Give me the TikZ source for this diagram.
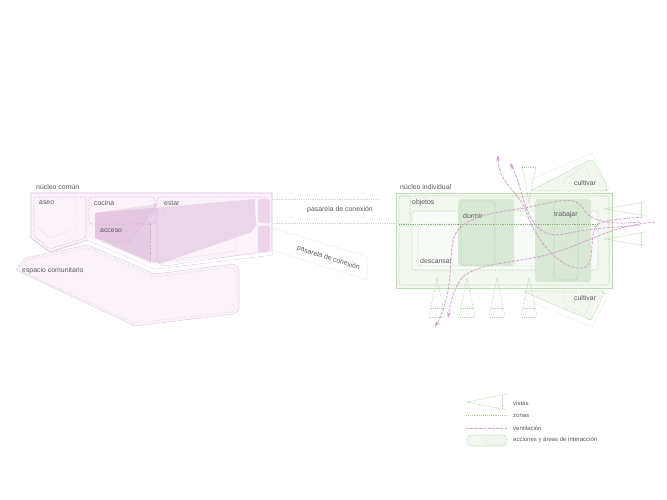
\documentclass[tikz,border=0pt]{standalone}
\usepackage{fontspec}
\setmainfont{Liberation Sans}
\usetikzlibrary{arrows.meta}
\definecolor{pk}{HTML}{E0BBDA}
\definecolor{pkl}{HTML}{D9A4D0}
\definecolor{pkd}{HTML}{D3A8CC}
\definecolor{pkf}{HTML}{FAF3F9}
\definecolor{pkm}{HTML}{EDD5E9}
\definecolor{gr}{HTML}{BEDCB4}
\definecolor{grl}{HTML}{A5D496}
\definecolor{grd}{HTML}{CFE3C9}
\definecolor{grf}{HTML}{F2F7F0}
\definecolor{grm}{HTML}{D9E8D4}
\definecolor{vent}{HTML}{D6A0CF}
\definecolor{txt}{HTML}{5A5A5A}
\tikzset{
 lab/.style={text=txt,font=\fontsize{6.9}{8}\selectfont,inner sep=0pt,anchor=west},
 legl/.style={text=txt,font=\fontsize{6}{7}\selectfont,inner sep=0pt,anchor=west},
 dp/.style={draw=pkl,line width=.55pt,dash pattern=on .7pt off 1pt},
 dg/.style={draw=grl,line width=.55pt,dash pattern=on .7pt off 1pt},
 dq/.style={draw=black!18,line width=.4pt,dash pattern=on .7pt off 1.1pt},
 dqg/.style={draw=black!15!grl,line width=.4pt,dash pattern=on .7pt off 1.1pt},
 vista/.style={draw=grl,line width=.6pt,dash pattern=on .8pt off 1.1pt},
 ventl/.style={draw=vent,line width=.8pt,dash pattern=on 3pt off 1.3pt,-{Stealth[length=6pt,width=4pt,fill=vent]}},
 ventn/.style={draw=vent,line width=.8pt,dash pattern=on 3pt off 1.3pt},
}
\begin{document}
\begin{tikzpicture}[x=1pt,y=-1pt]
\useasboundingbox[fill=white] (0,0) rectangle (667,500);
% ---- left: common nucleus
\filldraw[fill=pkf,draw=pk,line width=.6pt] (31,193)--(272,193)--(272,255)--(155,269)--(88,240)--(50,252)--(31,238)--cycle;
\path[fill=white] (88,240)--(155,269)--(272,255)--(272,252)--(155,265)--(88,237)--cycle;
% community space
\filldraw[fill=pkf,dp,rounded corners=2pt] (16,270)--(25,258)--(88,245)--(155,274)--(234,264)--(239,268)--(239,310)--(234,314)--(135,326)--cycle;
\draw[dq,rounded corners=2pt] (18,270)--(27,260)--(88,248)--(155,277)--(231,267)--(236,270)--(236,308)--(232,312)--(135,323)--cycle;
% aseo
\draw[dp,rounded corners=2pt] (34,197)--(86,197)--(86,238)--(50,249)--(34,236)--cycle;
\draw[dq,rounded corners=2pt] (38,199)--(77,199)--(77,228)--(50,238)--(38,228)--cycle;
% estar big dark
\fill[pkm,rounded corners=1pt] (95,213)--(255,199)--(256,225)--(252,232)--(162,263)--(150,262)--(95,238)--cycle;
% acceso darker
\fill[pkd,opacity=.22] (95,213)--(157,204)--(150,222)--(150,262)--(95,238)--cycle;
\fill[pkd,opacity=.1] (95,213)--(157,204)--(127,247)--(95,238)--cycle;
\draw[pk,line width=.4pt] (157,203)--(127,247);
\draw[dq,rounded corners=2pt] (100,216)--(147,225)--(147,252)--(142,254)--(100,237)--cycle;
% cocina
\draw[dp,rounded corners=3pt] (89,197)--(155,197)--(155,224)--(89,224)--cycle;
\draw[dp,rounded corners=3pt] (157,197)--(268,197)--(268,251)--(165,266)--(157,262)--cycle;
\draw[dq,rounded corners=2pt] (163,200)--(236,200)--(236,251)--(165,261)--cycle;
\draw[dp] (150,222)--(150,262);
% small boxes
\fill[pkm,rounded corners=1.5pt] (258,199) rectangle (270,223);
\fill[pkm,rounded corners=1.5pt] (258,226) rectangle (270,252);
% bridges
\draw[dq] (272,199)--(380,199);
\draw[dq] (272,223)--(396,223);
\draw[dq,rounded corners=2pt] (272,228)--(366,256)--(368,260)--(367,280)--(272,250);
\node[lab] at (307,210) {pasarela de conexión};
\node[lab,rotate=-18] at (297,248) {pasarela de conexión};
\node[lab] at (36,187) {núcleo común};
\node[lab] at (39,203) {aseo};
\node[lab] at (94,203) {cocina};
\node[lab] at (164,203) {estar};
\node[lab] at (100,231) {acceso};
\node[lab] at (22,271) {espacio comunitario};
% ---- right: cultivar
\filldraw[fill=grf,dg,rounded corners=3pt] (530,191)--(592,159)--(608,188)--(606,191)--cycle;
\draw[dq] (530,180)--(592,153)--(610,191);
\draw[dq,rounded corners=2pt] (563,181)--(585,165)--(594,186)--(563,186)--cycle;
\filldraw[fill=grf,dg,rounded corners=3pt] (522,291)--(603,291)--(604,293)--(592,320)--(588,319)--cycle;
\draw[dq] (522,298)--(592,327)--(610,290);
\draw[dq,rounded corners=2pt] (563,293)--(594,293)--(585,315)--(563,304)--cycle;
% individual nucleus
\filldraw[fill=grf,draw=gr,line width=.7pt] (396,193) rectangle (612,288);
\draw[dg,rounded corners=2pt] (399,196) rectangle (609,285);
\draw[dg,rounded corners=2pt] (399,196)--(410,196)--(410,224)--(399,224);
\fill[white,opacity=.45,rounded corners=3pt] (412,211) rectangle (598,270);
\draw[dg,rounded corners=3pt] (412,211) rectangle (598,270);
\draw[dqg,rounded corners=3pt] (418,224) rectangle (586,266);
% dark zones
\fill[grm,rounded corners=3pt] (458,199) rectangle (514,266);
\fill[grm,rounded corners=3pt] (535,199) rectangle (591,282);
\draw[dg,rounded corners=3pt] (461,201) rectangle (495,265);
\draw[dg,rounded corners=3pt] (554,201) rectangle (578,280);
\draw[dqg] (399,224)--(598,224);
\node[lab] at (412,203) {objetos};
\node[lab] at (463,216) {dormir};
\node[lab] at (420,261) {descansar};
\node[lab] at (554,215) {trabajar};
\node[lab] at (400,187) {núcleo individual};
\node[lab] at (574,183) {cultivar};
\node[lab] at (574,298) {cultivar};
% vistas
\foreach \x in {437,467,497,529}{
 \draw[vista] (\x-8,317)--(\x,278)--(\x+8,317);
 \draw[vista] (\x-7,317)--(\x+7,317);
 \draw[vista] (\x-6,308)--(\x+6,308);
}
\draw[vista] (522,166)--(529,202)--(536,166);
\draw[vista] (522,167)--(536,167);
\draw[vista] (645,202)--(605,209)--(646,216);
\draw[vista] (641,203)--(641,215);
\draw[vista] (645,232)--(605,239)--(646,246);
\draw[vista] (641,233)--(641,245);
% ventilation
\draw[ventl] (655,222) .. controls (610,226) and (590,242) .. (550,254) .. controls (515,264) and (470,262) .. (459,282) .. controls (453,292) and (450,305) .. (448,318);
\draw[ventl] (640,225) .. controls (610,228) and (590,228) .. (565,234) .. controls (545,238) and (535,228) .. (528,212) .. controls (522,198) and (518,178) .. (510,163);
\draw[ventl] (643,217) .. controls (620,219) and (605,220) .. (598,224) .. controls (588,230) and (597,268) .. (582,268) .. controls (560,270) and (535,240) .. (525,208) .. controls (515,190) and (498,180) .. (498,155);
\draw[ventl] (640,222) .. controls (610,225) and (590,222) .. (583,208) .. controls (576,196) and (560,200) .. (525,208) .. controls (495,212) and (470,216) .. (458,230) .. controls (445,245) and (458,285) .. (435,327);
% legend
\draw[vista] (507,394)--(467,402)--(507,410);
\draw[vista] (502,395)--(502,409);
\draw[vista] (466,415.5)--(507,415.5);
\draw[ventn] (466,428)--(507,428);
\filldraw[fill=grf,dg,rounded corners=4pt] (467,435) rectangle (507,446);
\draw[dq,rounded corners=3pt] (485,437) rectangle (505,444);
\node[legl] at (513,403) {vistas};
\node[legl] at (513,415.5) {zonas};
\node[legl] at (513,428) {ventilación};
\node[legl] at (513,440) {acciones y áreas de interacción};
\end{tikzpicture}
\end{document}
